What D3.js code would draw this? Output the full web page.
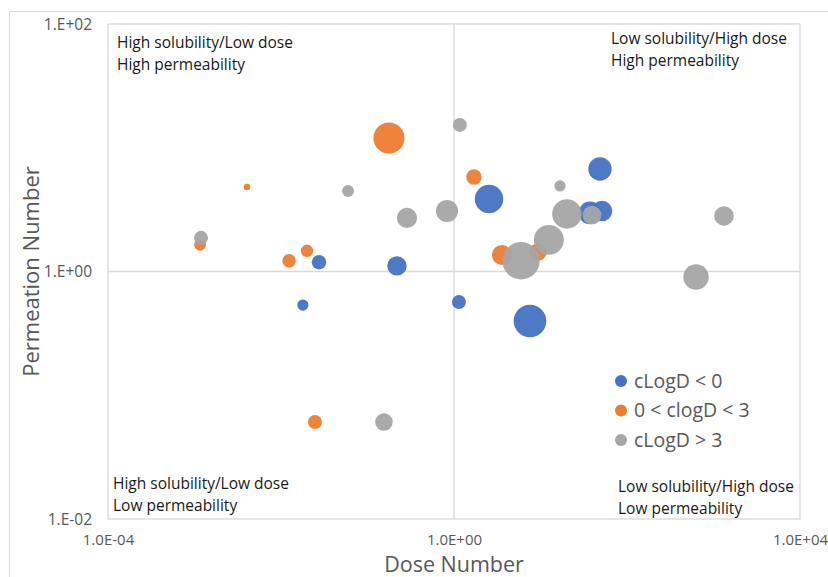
<!DOCTYPE html>
<html><head><meta charset="utf-8">
<script src="https://cdn.jsdelivr.net/npm/d3@7"></script>
<style>body{margin:0;background:#fff;} svg{display:block;}</style>
</head><body>
<svg id="chart" width="828" height="577"></svg>
<script>
// Series: [dose number, permeation number, bubble size]
const seriesNames = ["cLogD < 0", "0 < clogD < 3", "cLogD > 3"];
const seriesColors = ["#4472C4", "#ED7D31", "#A5A5A5"];
const blueSeries = [
  [0.0275, 1.19, 15], [0.219, 1.11, 27], [2.54, 3.85, 58], [48.7, 6.73, 39],
  [37.4, 2.97, 37], [51.4, 3.08, 30], [0.0179, 0.536, 9], [1.14, 0.567, 14],
  [7.56, 0.398, 76]
];
const orangeSeries = [
  [0.177, 12.0, 69], [0.00405, 4.82, 3], [0.00116, 1.64, 10], [0.02, 1.47, 11],
  [0.0124, 1.22, 13], [1.70, 5.80, 17], [3.59, 1.36, 29], [9.35, 1.44, 22],
  [0.0247, 0.0608, 14]
];
const graySeries = [
  [0.0596, 4.47, 10], [0.286, 2.71, 29], [0.00119, 1.87, 14], [1.17, 15.3, 14],
  [0.83, 3.08, 35], [16.8, 4.91, 9], [20.2, 2.92, 62], [39.4, 2.86, 25],
  [12.5, 1.80, 64], [5.96, 1.22, 100], [1321, 2.81, 27], [628, 0.903, 46],
  [0.155, 0.0608, 22]
];
const xTicks = [1e-4, 1, 1e4];
const xTickLabels = ["1.0E-04", "1.0E+00", "1.0E+04"];
const yTicks = [1e-2, 1, 1e2];
const yTickLabels = ["1.E-02", "1.E+00", "1.E+02"];
const quadrantLabels = [
  {lines: ["High solubility/Low dose", "High permeability"], q: "tl"},
  {lines: ["Low solubility/High dose", "High permeability"], q: "tr"},
  {lines: ["High solubility/Low dose", "Low permeability"], q: "bl"},
  {lines: ["Low solubility/High dose", "Low permeability"], q: "br"}
];

const svg = d3.select("#chart");
const font = "'Open Sans', Lato, sans-serif";
const L = 108, R = 800, T = 24, B = 519;

// outer chart frame
svg.append("rect").attr("x", 9.5).attr("y", 11.5).attr("width", 830).attr("height", 580)
  .attr("fill", "none").attr("stroke", "#d9d9d9").attr("stroke-width", 1);

const x = d3.scaleLog().domain([1e-4, 1e4]).range([L, R]);
const y = d3.scaleLog().domain([1e-2, 1e2]).range([B, T]);
const rScale = d3.scaleSqrt().domain([0, 100]).range([0, 18.7]);

// plot border
svg.append("rect").attr("x", L).attr("y", T).attr("width", R - L).attr("height", B - T)
  .attr("fill", "none").attr("stroke", "#d9d9d9").attr("stroke-width", 1.3);

// gridlines at 1
svg.append("line").attr("x1", x(1)).attr("x2", x(1)).attr("y1", T).attr("y2", B)
  .attr("stroke", "#d9d9d9").attr("stroke-width", 1.3);
svg.append("line").attr("x1", L).attr("x2", R).attr("y1", y(1)).attr("y2", y(1))
  .attr("stroke", "#d9d9d9").attr("stroke-width", 1.3);

// axes
const xAxis = d3.axisBottom(x).tickValues(xTicks).tickSize(0).tickPadding(0)
  .tickFormat((d, i) => xTickLabels[i]);
const gx = svg.append("g").attr("transform", `translate(0,${B + 26})`).call(xAxis);
gx.select(".domain").remove();
gx.selectAll("text").attr("fill", "#595959").attr("font-size", "15px").attr("font-family", font).attr("dy", "0");

const yAxis = d3.axisLeft(y).tickValues(yTicks).tickSize(0).tickPadding(0)
  .tickFormat((d, i) => yTickLabels[i]);
const gy = svg.append("g").attr("transform", `translate(${L - 16},0)`).call(yAxis);
gy.select(".domain").remove();
gy.selectAll("text").attr("fill", "#595959").attr("font-size", "15.5px").attr("font-family", font).attr("dy", "0.35em");

// axis titles
svg.append("text").attr("x", x(1)).attr("y", 571.5).attr("text-anchor", "middle")
  .attr("fill", "#595959").attr("font-size", "21.5px").attr("font-family", font).text("Dose Number");
svg.append("text").attr("transform", `translate(39,${y(1)}) rotate(-90)`).attr("text-anchor", "middle")
  .attr("fill", "#595959").attr("font-size", "22px").attr("font-family", font).text("Permeation Number");

// bubbles
const allSeries = [blueSeries, orangeSeries, graySeries];
allSeries.forEach((s, i) => {
  svg.append("g").selectAll("circle").data(s).join("circle")
    .attr("cx", d => x(d[0])).attr("cy", d => y(d[1])).attr("r", d => rScale(d[2]))
    .attr("fill", seriesColors[i]).attr("fill-opacity", 0.95);
});

// quadrant labels
const qPos = {tl: [117, 48], tr: [611, 44], bl: [113, 489], br: [618, 492]};
quadrantLabels.forEach(q => {
  const t = svg.append("text").attr("font-family", font).attr("font-size", "15.5px").attr("fill", "#1a1a1a");
  q.lines.forEach((ln, k) => {
    t.append("tspan").attr("x", qPos[q.q][0]).attr("y", qPos[q.q][1] + k * 21.5).text(ln);
  });
});

// legend
const lg = svg.append("g");
seriesNames.forEach((n, i) => {
  const cy = 381 + i * 29.5;
  lg.append("circle").attr("cx", 621).attr("cy", cy).attr("r", 6).attr("fill", seriesColors[i]);
  lg.append("text").attr("x", 634).attr("y", cy).attr("dy", "0.35em").attr("font-family", font)
    .attr("font-size", "19.5px").attr("fill", "#595959").text(n);
});
</script>
</body></html>
